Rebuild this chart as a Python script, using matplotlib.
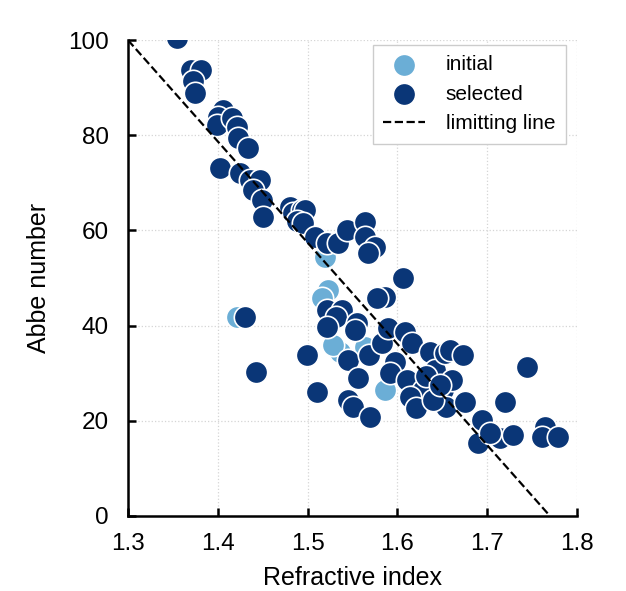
import matplotlib.pyplot as plt
import numpy as np

plt.rcParams["font.family"] = ["Liberation Sans", "DejaVu Sans"]

# initial (light) points visible in the picture
init_n = [1.519, 1.523, 1.516, 1.536, 1.564, 1.586, 1.421, 1.528]
init_abbe = [54.4, 47.5, 45.8, 34.5, 35.5, 26.5, 41.8, 36.0]

# selected (dark) points
sel_n = [1.355, 1.370, 1.381, 1.372, 1.375,
         1.406, 1.400, 1.399, 1.416, 1.421, 1.423, 1.434, 1.402, 1.425, 1.436,
         1.447, 1.439, 1.449, 1.450, 1.480, 1.484, 1.494, 1.497, 1.488, 1.495,
         1.508, 1.522, 1.534, 1.544, 1.564, 1.564, 1.575, 1.567,
         1.606, 1.586, 1.577, 1.522, 1.538, 1.532, 1.522, 1.555, 1.553,
         1.499, 1.545, 1.568, 1.583, 1.590, 1.608, 1.616, 1.597, 1.592,
         1.556, 1.512, 1.545, 1.551, 1.570, 1.611, 1.618, 1.622, 1.636,
         1.642, 1.653, 1.651, 1.659, 1.673, 1.661, 1.629, 1.614, 1.654,
         1.675, 1.621, 1.640, 1.744, 1.720, 1.694, 1.690, 1.714, 1.729,
         1.764, 1.761, 1.779, 1.703, 1.430, 1.443, 1.510, 1.632, 1.648]
sel_abbe = [100.5, 93.7, 93.7, 91.5, 89.0,
            85.3, 83.8, 82.1, 83.6, 81.7, 79.4, 77.3, 73.1, 72.0, 70.6,
            70.6, 68.5, 66.4, 62.8, 65.0, 63.7, 64.3, 64.3, 62.0, 61.5,
            58.6, 57.4, 57.4, 60.0, 61.8, 58.6, 56.5, 55.3,
            50.0, 46.0, 45.8, 43.3, 43.3, 41.8, 39.7, 40.5, 39.1,
            33.8, 32.8, 33.8, 36.3, 39.5, 38.7, 36.3, 32.4, 30.0,
            29.0, 26.0, 24.4, 22.9, 20.8, 28.6, 25.0, 22.9, 34.5,
            30.7, 34.2, 26.5, 34.9, 33.8, 28.6, 26.5, 25.0, 22.9,
            24.0, 22.7, 24.4, 31.3, 24.0, 20.2, 15.3, 16.4, 17.0,
            18.7, 16.6, 16.6, 17.4, 41.8, 30.2, 26.0, 29.5, 27.5]

line_n = [1.3, 1.77]
line_abbe = [100, 0]

fig = plt.figure(figsize=(6.26, 5.91), dpi=100)
ax = fig.add_axes([0.2045, 0.127, 0.717, 0.805])

ax.scatter(init_n, init_abbe, s=260, c="#6baed6", edgecolors="white",
           linewidths=1.2, label="initial", zorder=3)
ax.scatter(sel_n, sel_abbe, s=260, c="#0a3677", edgecolors="white",
           linewidths=1.2, label="selected", zorder=4)
ax.plot(line_n, line_abbe, "k--", lw=1.6, label="limitting line", zorder=5)

ax.set_xlim(1.3, 1.8)
ax.set_ylim(0, 100)
ax.set_xticks([1.3, 1.4, 1.5, 1.6, 1.7, 1.8])
ax.set_yticks([0, 20, 40, 60, 80, 100])
ax.grid(True, ls=":", color="#d5d5d5", lw=0.9)
ax.set_axisbelow(True)
for s in ["top", "right"]:
    ax.spines[s].set_visible(False)
for s in ["left", "bottom"]:
    ax.spines[s].set_linewidth(1.8)
ax.tick_params(direction="in", length=6, width=1.8, labelsize=17.5)
ax.tick_params(axis="x", pad=12)
ax.tick_params(axis="y", pad=14)
ax.set_xlabel("Refractive index", fontsize=18, labelpad=8)
ax.set_ylabel("Abbe number", fontsize=18, labelpad=12)

leg = ax.legend(loc="upper right", bbox_to_anchor=(0.975, 0.99), fontsize=15,
                fancybox=False, edgecolor="#cccccc", framealpha=1,
                borderpad=0.5, handletextpad=1.0, markerscale=1.0,
                borderaxespad=0)

fig.savefig("out.png", dpi=100)
